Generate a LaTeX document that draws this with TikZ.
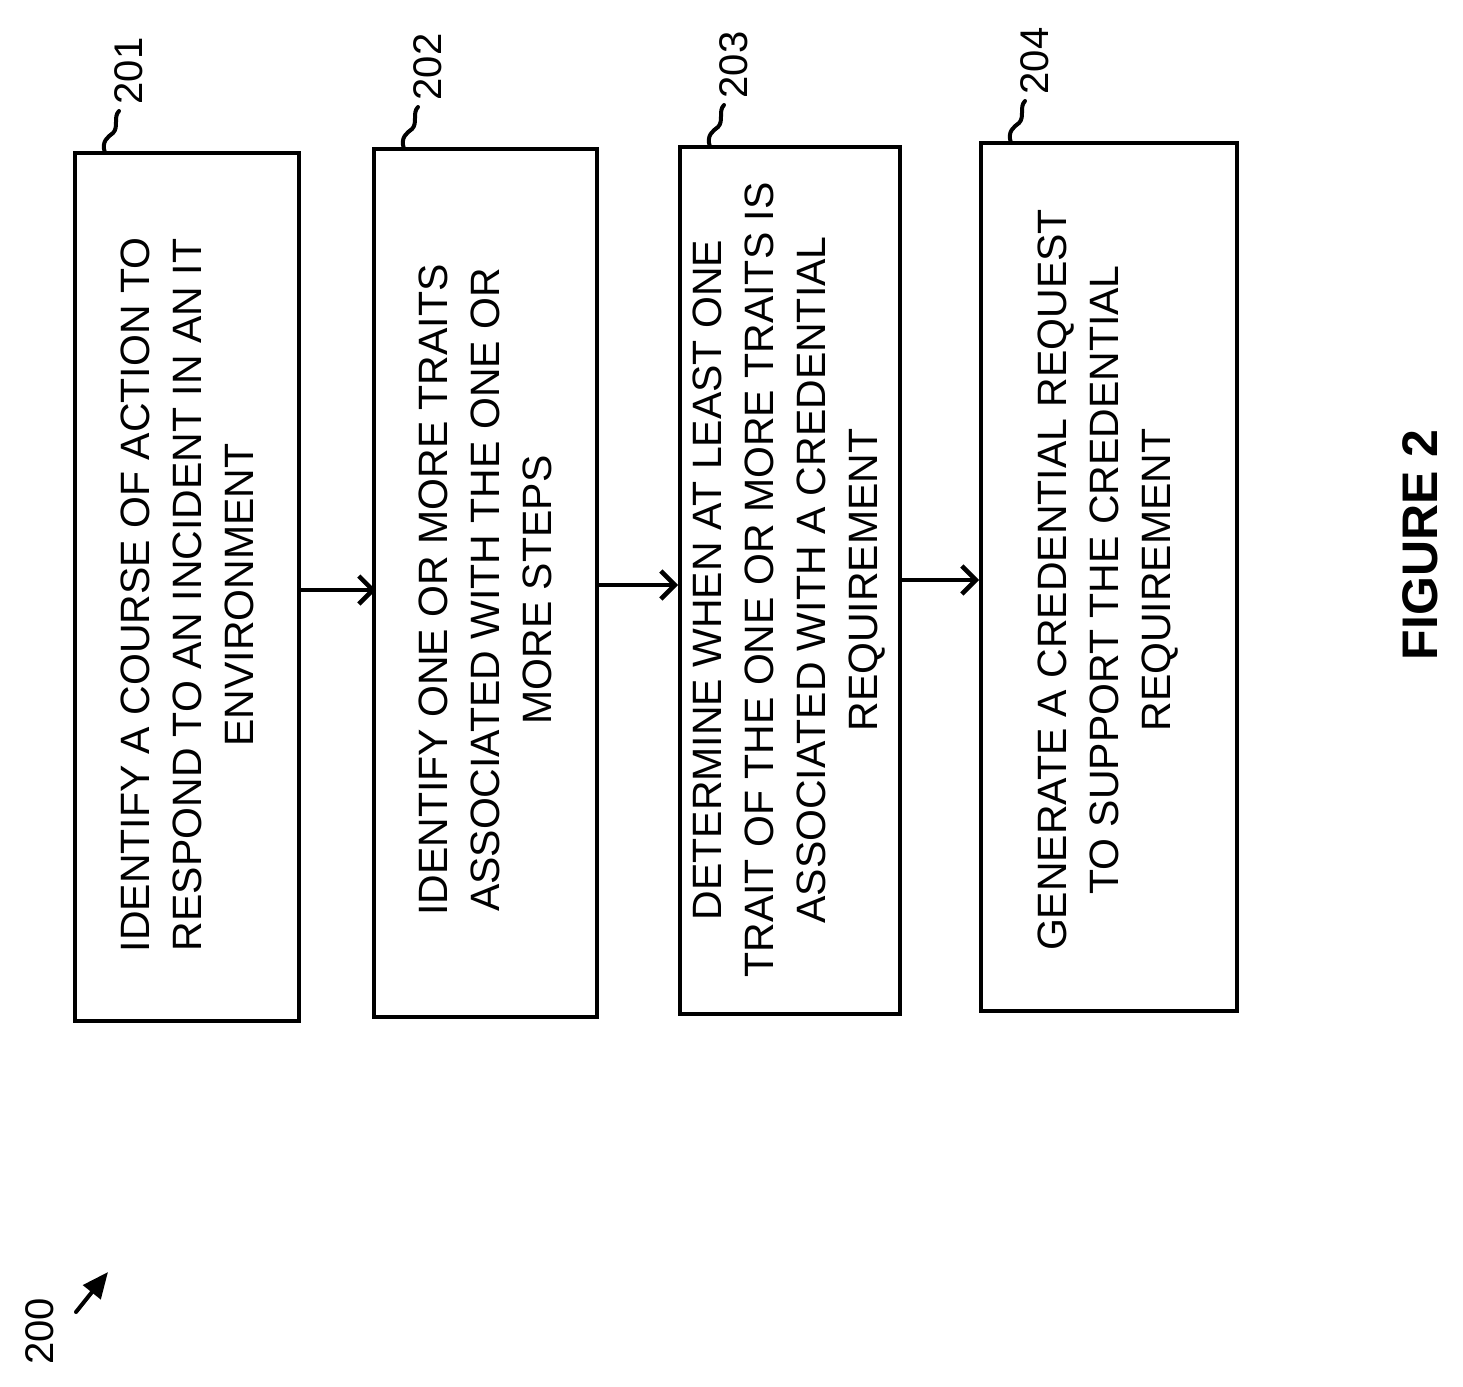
\documentclass[tikz,border=0pt]{standalone}
\usepackage{fontspec}
\setmainfont{Liberation Sans}
\usetikzlibrary{arrows.meta}
\begin{document}
\begin{tikzpicture}[x=1pt,y=-1pt,
  box/.style={draw,line width=4pt},
  txt/.style={rotate=90,align=center,font=\fontsize{41}{52}\selectfont},
  lab/.style={rotate=90,font=\fontsize{40}{48}\selectfont,anchor=west},
  arr/.style={line width=4.5pt,-{Straight Barb[length=14pt,width=28pt,line width=4.5pt]}},
  sq/.style={line width=4pt,line cap=round}]
\useasboundingbox (0,0) rectangle (1463,1386);
\draw[box] (75,153) rectangle (299,1021);
\draw[box] (374,149) rectangle (597,1017);
\draw[box] (680,147) rectangle (900,1014);
\draw[box] (981,143) rectangle (1237,1011);
\node[txt] (t1) at (187,595) {IDENTIFY A COURSE OF ACTION TO\\RESPOND TO AN INCIDENT IN AN IT\\ENVIRONMENT};
\node[txt] (t2) at (485,590) {IDENTIFY ONE OR MORE TRAITS\\ASSOCIATED WITH THE ONE OR\\MORE STEPS};
\node[txt] (t3) at (789,580) {DETERMINE WHEN AT LEAST ONE\\TRAIT OF THE ONE OR MORE TRAITS IS\\ASSOCIATED WITH A CREDENTIAL\\REQUIREMENT};
\node[txt] (t4) at (1108,580) {GENERATE A CREDENTIAL REQUEST\\TO SUPPORT THE CREDENTIAL\\REQUIREMENT};
\coordinate (a1) at (299,590); \coordinate (b1) at (376,590);
\coordinate (a2) at (597,585); \coordinate (b2) at (678,585);
\coordinate (a3) at (900,580); \coordinate (b3) at (979,580);
\draw[arr] (a1) -- (b1);
\draw[arr] (a2) -- (b2);
\draw[arr] (a3) -- (b3);
\foreach \x/\y/\n in {105/153/201,404/149/202,710/147/203,1011/143/204}{
  \draw[sq] (\x,\y) .. controls (\x-4,\y-12) and (\x+3,\y-16) .. (\x+8,\y-20)
     .. controls (\x+14,\y-26) and (\x+8,\y-36) .. (\x+14,\y-42);
  \node[lab] (l\n) at (\x+24,\y-45) {\n};
}
\node[rotate=90,font=\fontsize{50}{60}\selectfont\bfseries] (fig) at (1420,545) {FIGURE 2};
\node[lab] (l200) at (40,1368) {200};
\coordinate (p0) at (76,1312);
\draw[line width=4pt,line cap=round,-{Triangle[length=26pt,width=22pt]}] (p0) -- (108,1272);
\end{tikzpicture}
\end{document}
